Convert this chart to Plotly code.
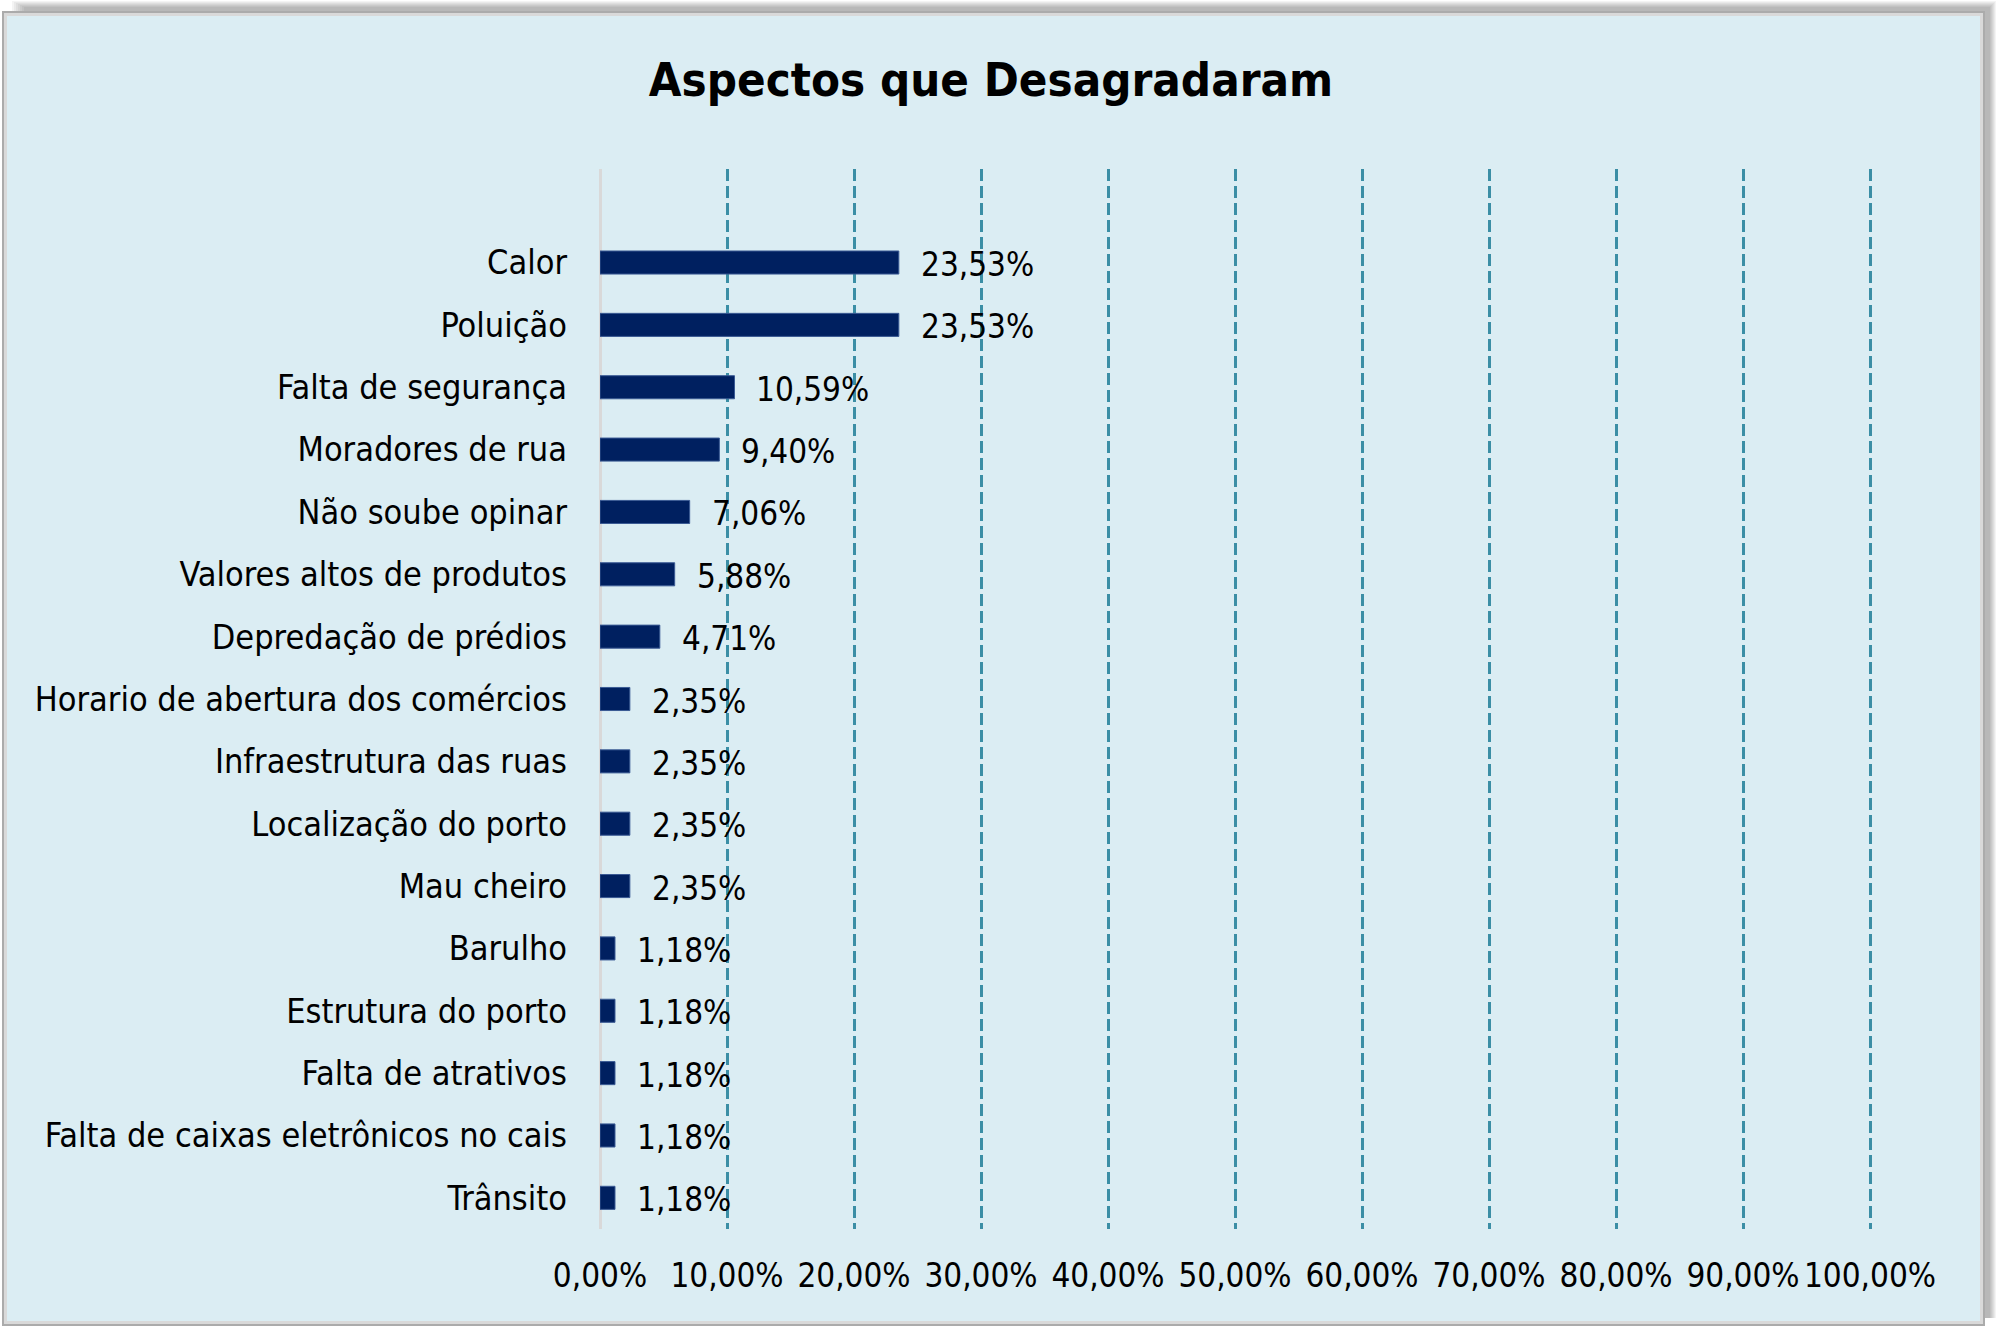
import plotly.graph_objects as go

categories = ["Calor", "Poluição", "Falta de segurança", "Moradores de rua",
              "Não soube opinar", "Valores altos de produtos", "Depredação de prédios",
              "Horario de abertura dos comércios", "Infraestrutura das ruas",
              "Localização do porto", "Mau cheiro", "Barulho", "Estrutura do porto",
              "Falta de atrativos", "Falta de caixas eletrônicos no cais", "Trânsito"]
values = [0.2353, 0.2353, 0.1059, 0.0940, 0.0706, 0.0588, 0.0471, 0.0235, 0.0235,
          0.0235, 0.0235, 0.0118, 0.0118, 0.0118, 0.0118, 0.0118]
x_ticks = [0, 0.1, 0.2, 0.3, 0.4, 0.5, 0.6, 0.7, 0.8, 0.9, 1.0]
title_text = "Aspectos que Desagradaram"

W, H = 1998, 1329
L, R, T, B = 600, 1874, 169, 1229
X_MAX = (R - L) / 1270.0
FONT = "DejaVu Sans Condensed, Liberation Sans Narrow, Arial Narrow, sans-serif"

def px(x):
    return (x - L) / (R - L)

def py(y):
    return (B - y) / (B - T)

fig = go.Figure()
fig.add_trace(go.Bar(
    x=values, y=categories, orientation="h",
    marker=dict(color="#002060", line=dict(color="#3A5A94", width=1)),
    width=0.37, hoverinfo="x+y",
))

for c, v in zip(categories, values):
    fig.add_annotation(x=v, y=c, xref="x", yref="y", text=f"{v*100:.2f}%".replace(".", ","),
                       showarrow=False, xanchor="left", yanchor="middle", xshift=20, yshift=-2,
                       font=dict(family=FONT, size=33, color="#000000"))

shapes = []
# soft shadow (up and to the right)
for i in range(7):
    shapes.append(dict(type="rect", xref="paper", yref="paper", layer="below",
                       x0=px(12 + 2 * i), x1=px(1996 - i), y0=py(1318), y1=py(1 + i),
                       line=dict(width=0), fillcolor="rgba(0,0,0,0.045)"))
# frame
shapes.append(dict(type="rect", xref="paper", yref="paper", layer="below",
                   x0=px(3), x1=px(1984), y0=py(1325), y1=py(12),
                   line=dict(color="#ABABAB", width=2), fillcolor="#D9D9D9"))
shapes.append(dict(type="rect", xref="paper", yref="paper", layer="below",
                   x0=px(7), x1=px(1980), y0=py(1321), y1=py(16),
                   line=dict(width=0), fillcolor="#DBEDF3"))

fig.update_layout(
    width=W, height=H,
    margin=dict(l=L, r=W - R, t=T, b=H - B, pad=0),
    paper_bgcolor="#FFFFFF", plot_bgcolor="rgba(0,0,0,0)",
    separators=",.",
    showlegend=False,
    shapes=shapes,
    font=dict(family=FONT, size=33, color="#000000"),
    title=dict(text=title_text, x=991 / W, xanchor="center", y=1 - 80 / H, yanchor="middle",
               font=dict(family=FONT, size=47, color="#000000", weight="bold")),
    xaxis=dict(range=[0, X_MAX], tickvals=x_ticks, tickformat=".2%",
               showgrid=True, gridcolor="#3B8EA5", gridwidth=3, griddash="12px,5px",
               zeroline=True, zerolinecolor="#D9D9D9", zerolinewidth=3,
               showline=False, ticks="", ticklabelstandoff=24,
               tickfont=dict(family=FONT, size=33, color="#000000"), fixedrange=True),
    yaxis=dict(categoryorder="array", categoryarray=categories, range=[15.5, -1.5],
               showgrid=False, zeroline=False, showline=False, ticks="",
               ticklabelstandoff=32,
               tickfont=dict(family=FONT, size=34, color="#000000"), fixedrange=True),
)

fig.write_html("out.html", config={"displayModeBar": False},
               post_script="document.body.style.margin='0';document.body.style.overflow='hidden';")
